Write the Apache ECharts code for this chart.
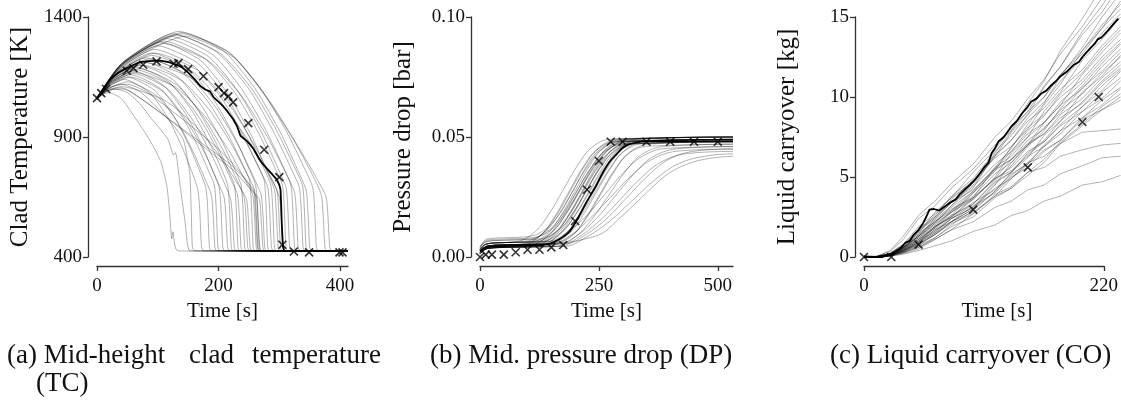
<!DOCTYPE html>
<html><head><meta charset="utf-8">
<script src="https://cdn.jsdelivr.net/npm/echarts@6/dist/echarts.min.js"></script>
<style>html,body{margin:0;padding:0;background:#fff}#c{width:1121px;height:403px}</style>
</head><body><div id="c"></div>
<script>
// ---------- (a) clad temperature: runs as flat [t,T,...] lists ----------
const tcRuns = [
[0,1060, 8,1078, 20,1085, 40,1060, 60,990, 80,915, 95,850, 106,790, 115,694, 120,570, 123,475, 125,505, 127,468, 130,432, 136,425, 413,425],
[0,1055, 12,1085, 30,1100, 50,1085, 70,1040, 90,975, 105,930, 117,889, 122,850, 126,825, 129,835, 137,694, 142,600, 145,543, 148,470, 151,430, 156,425, 413,425],
[0,1065, 15,1100, 40,1120, 70,1090, 100,1020, 125,950, 142,889, 150,790, 153,740, 155,600, 157,440, 161,426, 413,425],
[0,1060, 15,1104, 45,1140, 87,1084, 118,974, 142,846, 158,742, 166,680, 169,600, 172,440, 175,426, 413,425],
[0,1058, 17,1110, 50,1150, 95,1094, 127,984, 153,856, 170,752, 179,690, 182,610, 185,440, 188,426, 413,425],
[0,1062, 17,1099, 50,1130, 98,1072, 133,961, 160,829, 178,723, 188,660, 191,580, 194,440, 197,426, 413,425],
[0,1060, 18,1116, 55,1160, 103,1104, 138,994, 165,866, 183,762, 193,700, 196,610, 199,440, 202,426, 413,425],
[0,1058, 20,1124, 60,1175, 109,1116, 145,1000, 173,865, 191,755, 201,690, 204,600, 207,440, 210,426, 413,425],
[0,1064, 18,1110, 55,1150, 109,1089, 147,970, 178,830, 198,717, 209,650, 212,570, 215,440, 218,426, 413,425],
[0,1060, 22,1132, 65,1190, 118,1130, 155,1014, 185,876, 205,766, 215,700, 218,610, 221,440, 224,426, 413,425],
[0,1056, 20,1118, 60,1165, 116,1101, 156,976, 188,829, 209,711, 220,640, 223,560, 226,440, 229,426, 413,425],
[0,1062, 23,1138, 70,1200, 125,1139, 164,1020, 195,880, 215,767, 226,700, 229,610, 232,440, 235,426, 413,425],
[0,1060, 22,1127, 65,1180, 123,1116, 165,993, 198,847, 219,730, 231,660, 234,580, 237,440, 240,426, 413,425],
[0,1058, 25,1146, 75,1215, 132,1152, 172,1030, 205,885, 226,770, 237,700, 240,610, 243,440, 246,426, 413,425],
[0,1062, 23,1130, 70,1185, 130,1119, 173,992, 208,843, 230,722, 242,650, 245,570, 248,440, 251,426, 413,425],
[0,1060, 27,1154, 80,1230, 140,1168, 183,1046, 217,904, 239,789, 251,720, 254,620, 257,440, 260,426, 413,425],
[0,1056, 25,1138, 75,1200, 139,1136, 185,1013, 222,867, 246,750, 259,680, 262,590, 265,440, 268,426, 413,425],
[0,1062, 30,1166, 90,1250, 150,1183, 193,1052, 227,898, 249,774, 261,700, 264,610, 267,440, 270,426, 413,425],
[0,1060, 28,1152, 85,1225, 150,1156, 196,1022, 233,863, 257,736, 270,660, 273,580, 276,440, 279,426, 413,425],
[0,1060, 32,1174, 95,1265, 158,1198, 203,1069, 239,916, 262,794, 275,720, 278,620, 281,440, 284,426, 413,425],
[0,1058, 30,1160, 90,1240, 157,1173, 205,1042, 243,888, 268,764, 281,690, 284,600, 287,440, 290,426, 413,425],
[0,1062, 33,1182, 100,1280, 165,1209, 212,1071, 249,909, 273,778, 286,700, 289,610, 292,440, 295,426, 413,425],
[0,1060, 35,1191, 105,1295, 170,1220, 217,1074, 255,901, 279,763, 292,680, 295,590, 298,440, 301,426, 413,425],
[0,1064, 32,1166, 95,1250, 167,1176, 218,1034, 259,866, 286,731, 300,650, 303,570, 306,440, 309,426, 413,425],
[0,1060, 37,1193, 110,1300, 178,1226, 227,1084, 266,916, 291,781, 305,700, 308,610, 311,440, 314,426, 413,425],
[0,1058, 38,1199, 115,1310, 184,1234, 233,1087, 272,913, 297,774, 311,690, 314,600, 317,440, 320,426, 413,425],
[0,1062, 40,1205, 120,1320, 190,1244, 239,1097, 279,923, 305,784, 319,700, 322,610, 325,440, 328,426, 413,425],
[0,1060, 37,1188, 110,1290, 185,1214, 239,1067, 282,893, 310,754, 325,670, 328,590, 331,440, 334,426, 413,425],
[0,1056, 42,1210, 125,1330, 198,1252, 250,1100, 291,920, 318,776, 333,690, 336,600, 339,440, 342,426, 413,425],
[0,1062, 43,1207, 130,1325, 203,1248, 255,1100, 296,925, 323,784, 338,700, 341,610, 344,440, 347,426, 413,425],
[0,1060, 45,1216, 135,1340, 208,1259, 260,1102, 302,918, 329,769, 344,680, 347,590, 350,440, 353,426, 413,425],
[0,1058, 47,1215, 140,1335, 215,1256, 269,1103, 312,922, 340,777, 355,690, 358,600, 361,440, 364,426, 413,425],
[0,1062, 47,1212, 140,1330, 220,1248, 277,1070, 323,890, 353,750, 369,660, 372,580, 375,440, 378,426, 413,425],
[0,1060, 48,1205, 145,1320, 226,1230, 284,1050, 331,860, 361,730, 377,650, 380,570, 383,440, 386,426, 413,425],
[0,1060, 20,1121, 60,1170, 129,1108, 178,986, 217,844, 242,729, 256,660, 259,580, 262,440, 265,426, 413,425],
[0,1058, 27,1143, 80,1210, 156,1145, 210,1019, 253,871, 281,752, 296,680, 299,590, 302,440, 305,426, 413,425],
[0,1060, 13,1088, 40,1110, 112,1052, 164,941, 205,809, 232,703, 246,640, 249,560, 252,440, 255,426, 413,425],
[0,1060, 20,1100, 40,1105, 60,1080, 100,1010, 140,935, 180,860, 220,785, 245,720, 262,650, 265,560, 268,440, 271,426, 413,425],
[0,1058, 20,1095, 45,1100, 70,1065, 110,990, 150,910, 190,830, 225,760, 250,690, 267,640, 270,560, 273,440, 276,426, 413,425],
[0,1062, 25,1110, 50,1120, 80,1090, 120,1015, 160,935, 200,850, 230,770, 252,700, 258,680, 261,580, 264,440, 267,426, 413,425]
];
const tcNominal = [0,1062, 10,1100, 21,1139, 35,1168, 49,1187, 60,1200, 71,1212, 85,1216, 104,1218, 118,1212, 131,1201, 140,1190, 148,1173, 160,1142, 170,1112, 178,1098, 186,1090, 192,1065, 202,1042, 207,1030, 213,1012, 218,995, 224,975, 230,948, 236,905, 241,895, 246,885, 252,868, 257,852, 262,830, 266,812, 272,790, 279,770, 288,745, 296,722, 300,700, 302,680, 303,620, 304,542, 305,490, 306,444, 308,426, 413,425];
const tcExpTime  = [0, 7, 15, 49, 60, 76, 98, 126, 134, 150, 175, 200, 209, 216, 224, 249, 275, 300, 305, 324, 349, 399, 404];
const tcExpValue = [1062, 1083, 1100, 1176, 1187, 1201, 1215, 1205, 1208, 1183, 1153, 1108, 1083, 1069, 1044, 958, 847, 733, 451, 423, 419, 419, 419];
const tcTicksX = [0, 200, 400];
const tcTicksY = [400, 900, 1400];

// ---------- (b) pressure drop ----------
const dpRuns = [
[0,0.0015, 15,0.0035, 50,0.004, 85,0.0045, 125,0.0085, 155,0.0162, 185,0.0265, 215,0.0369, 245,0.0445, 285,0.0481, 532,0.049],
[0,0.002, 15,0.0045, 50,0.005, 90,0.0055, 130,0.0095, 160,0.0172, 190,0.0275, 220,0.0379, 250,0.0455, 290,0.0491, 532,0.050],
[0,0.003, 15,0.0055, 50,0.006, 95,0.0065, 135,0.0103, 165,0.0176, 195,0.0275, 225,0.0374, 255,0.0447, 295,0.0481, 532,0.049],
[0,0.002, 15,0.0045, 50,0.005, 100,0.0055, 140,0.0095, 170,0.0172, 200,0.0275, 230,0.0379, 260,0.0455, 300,0.0491, 532,0.050],
[0,0.0012, 15,0.0035, 50,0.004, 100,0.0045, 140,0.0084, 170,0.0159, 200,0.026, 230,0.0361, 260,0.0436, 300,0.0471, 532,0.048],
[0,0.004, 15,0.0065, 50,0.007, 105,0.0075, 145,0.0112, 175,0.0183, 205,0.028, 235,0.0377, 265,0.0448, 305,0.0482, 532,0.049],
[0,0.0025, 15,0.0045, 50,0.005, 108,0.0055, 148,0.0095, 178,0.0172, 208,0.0275, 238,0.0379, 268,0.0455, 308,0.0491, 532,0.050],
[0,0.003, 15,0.0055, 50,0.006, 110,0.0065, 150,0.0103, 180,0.0176, 210,0.0275, 240,0.0374, 270,0.0447, 310,0.0481, 532,0.049],
[0,0.0015, 15,0.0035, 50,0.004, 112,0.0045, 152,0.0084, 182,0.0159, 212,0.026, 242,0.0361, 272,0.0436, 312,0.0471, 532,0.048],
[0,0.002, 15,0.0045, 50,0.005, 115,0.0055, 155,0.0095, 185,0.0172, 215,0.0275, 245,0.0379, 275,0.0455, 315,0.0491, 532,0.050],
[0,0.0035, 15,0.0055, 50,0.006, 118,0.0065, 158,0.0103, 188,0.0176, 218,0.0275, 248,0.0374, 278,0.0447, 318,0.0481, 532,0.049],
[0,0.002, 15,0.0045, 50,0.005, 120,0.0055, 160,0.0093, 190,0.0166, 220,0.0265, 250,0.0364, 280,0.0437, 320,0.0471, 532,0.048],
[0,0.0012, 15,0.0035, 50,0.004, 122,0.0045, 162,0.0086, 192,0.0164, 222,0.027, 252,0.0376, 282,0.0454, 322,0.0491, 532,0.050],
[0,0.0045, 15,0.0065, 50,0.007, 125,0.0075, 165,0.0112, 195,0.0183, 225,0.028, 255,0.0377, 285,0.0448, 325,0.0482, 532,0.049],
[0,0.002, 15,0.0045, 50,0.005, 128,0.0055, 168,0.0094, 198,0.0169, 228,0.027, 258,0.0371, 288,0.0446, 328,0.0481, 532,0.049],
[0,0.003, 15,0.0055, 50,0.006, 130,0.0065, 170,0.0102, 200,0.0173, 230,0.027, 260,0.0367, 290,0.0438, 330,0.0472, 532,0.048],
[0,0.0015, 15,0.0035, 50,0.004, 135,0.0045, 175,0.0086, 205,0.0164, 235,0.027, 265,0.0376, 295,0.0454, 335,0.0491, 532,0.050],
[0,0.0022, 15,0.0045, 50,0.005, 138,0.0055, 178,0.0094, 208,0.0169, 238,0.027, 268,0.0371, 298,0.0446, 338,0.0481, 532,0.049],
[0,0.003, 15,0.0055, 50,0.006, 142,0.0065, 182,0.0102, 212,0.0173, 242,0.027, 272,0.0367, 302,0.0438, 342,0.0472, 532,0.048],
[0,0.002, 15,0.0045, 50,0.005, 145,0.0055, 185,0.0094, 215,0.0169, 245,0.027, 275,0.0371, 305,0.0446, 345,0.0481, 532,0.049],
[0,0.0015, 15,0.0035, 50,0.004, 140,0.0045, 190,0.0083, 220,0.0156, 250,0.0255, 280,0.0354, 310,0.0427, 350,0.0461, 532,0.047],
[0,0.002, 15,0.0045, 50,0.005, 150,0.0055, 195,0.0093, 225,0.0166, 255,0.0265, 285,0.0364, 315,0.0437, 360,0.0471, 532,0.048],
[0,0.003, 15,0.0055, 50,0.006, 150,0.0065, 182,0.010, 222,0.0168, 262,0.026, 302,0.0352, 342,0.042, 390,0.0452, 532,0.046],
[0,0.0015, 15,0.0035, 50,0.004, 160,0.0045, 200,0.0083, 235,0.0156, 270,0.0255, 305,0.0354, 340,0.0427, 390,0.0461, 532,0.047],
[0,0.002, 15,0.0045, 50,0.005, 150,0.0055, 190,0.009, 230,0.0158, 275,0.025, 320,0.0342, 365,0.041, 420,0.0442, 532,0.045],
[0,0.002, 15,0.0045, 50,0.005, 165,0.0055, 205,0.0091, 245,0.0161, 285,0.0255, 325,0.0349, 365,0.0419, 420,0.0452, 532,0.046],
[0,0.0015, 15,0.0035, 50,0.004, 170,0.0045, 205,0.008, 250,0.0148, 295,0.024, 340,0.0332, 385,0.040, 440,0.0432, 532,0.044],
[0,0.002, 15,0.0045, 50,0.005, 180,0.0055, 220,0.009, 265,0.0158, 310,0.025, 355,0.0342, 400,0.041, 455,0.0442, 532,0.045],
[0,0.0015, 15,0.0035, 50,0.004, 180,0.0045, 220,0.0079, 270,0.0145, 320,0.0235, 370,0.0325, 420,0.0391, 480,0.0422, 532,0.043],
[0,0.002, 15,0.0045, 50,0.005, 180,0.006, 220,0.0075, 258,0.010, 290,0.0155, 328,0.0225, 365,0.0295, 398,0.035, 440,0.039, 480,0.041, 532,0.042],
[0,0.003, 15,0.0055, 50,0.006, 80,0.0065, 115,0.0104, 145,0.0179, 175,0.028, 205,0.0381, 235,0.0456, 275,0.0491, 532,0.050],
[0,0.004, 15,0.0075, 50,0.008, 100,0.0085, 130,0.0105, 160,0.016, 190,0.0255, 220,0.0365, 250,0.0445, 290,0.0485, 532,0.050],
[0,0.0035, 15,0.007, 50,0.0075, 110,0.008, 150,0.0115, 180,0.0185, 210,0.028, 240,0.0378, 270,0.0448, 310,0.0483, 532,0.049]
];
const dpNominal = [0,0.0023, 8,0.0035, 20,0.0042, 50,0.0045, 100,0.0048, 130,0.005, 150,0.0058, 165,0.0072, 178,0.0088, 188,0.0105, 202,0.0148, 223,0.0225, 245,0.030, 258,0.035, 272,0.0395, 287,0.0428, 300,0.0455, 314,0.047, 330,0.0478, 350,0.0482, 400,0.0483, 532,0.0483];
const dpExpTime  = [0, 12, 25, 50, 75, 100, 125, 150, 175, 200, 225, 250, 275, 300, 350, 400, 450, 500];
const dpExpValue = [0, 0.001, 0.001, 0.001, 0.002, 0.003, 0.003, 0.004, 0.005, 0.015, 0.028, 0.040, 0.048, 0.048, 0.048, 0.048, 0.048, 0.048];
const dpTicksX = [0, 250, 500];
const dpTicksY = [0, 0.05, 0.10];

// ---------- (c) liquid carryover: shared time grid ----------
const coTime = [0, 12, 24, 36, 50, 65, 80, 100, 120, 135, 150, 165, 180, 200, 218, 235];
const coRuns = [
[0,0,0.15,0.55,1.3,2.1,3.2,4.3,6.5,7.9,9.6,11.0,12.9,14.9,16.9,18.5],
[0,0.02,0.2,0.75,1.5,2.8,3.7,5.3,6.7,8.1,9.1,10.7,11.9,13.9,15.3,17.0],
[0,0,0.1,0.5,1.1,1.8,2.8,3.7,5.6,6.8,8.3,9.6,11.3,13.1,15.0,16.5],
[0,0.05,0.35,1.1,2.4,3.2,4.3,5.5,7.0,7.9,9.1,10.0,11.4,12.7,14.3,15.5],
[0,0.02,0.18,0.6,1.3,2.4,3.4,4.5,6.3,7.3,8.7,9.7,11.0,12.4,14.0,15.2],
[0,0,0.1,0.4,0.9,1.7,2.5,3.6,5.0,6.5,7.5,9.1,10.3,12.3,13.6,15.0],
[0,0.03,0.2,0.7,1.6,2.5,3.6,4.8,6.4,7.3,8.5,9.3,10.5,11.7,13.2,14.4],
[0,0,0.13,0.5,1.1,1.9,2.9,4.1,5.5,6.6,7.9,8.8,10.2,11.5,13.0,14.2],
[0,0,0.08,0.3,0.7,1.4,2.2,3.0,4.5,5.9,7.0,8.4,9.5,11.4,12.8,14.0],
[0,0.04,0.25,0.8,1.9,2.7,3.7,4.7,6.2,6.9,8.1,8.9,10.0,11.1,12.5,13.6],
[0,0.02,0.15,0.6,1.3,2.2,3.1,4.1,5.6,6.3,7.5,8.4,9.7,10.9,12.3,13.4],
[0,0,0.1,0.35,0.8,1.5,2.4,3.3,4.8,5.7,6.9,7.9,9.3,10.7,12.1,13.3],
[0,0.03,0.2,0.7,1.6,2.4,3.4,4.4,5.8,6.6,7.7,8.4,9.5,10.5,11.9,13.0],
[0,0,0.12,0.45,1.0,1.9,2.5,3.7,4.9,6.1,7.0,8.1,9.0,10.6,11.6,12.8],
[0,0.01,0.15,0.55,1.2,2.1,2.8,4.0,5.4,6.1,7.3,8.0,9.2,10.2,11.5,12.5],
[0,0,0.07,0.27,0.6,1.2,2.0,2.9,4.1,5.3,6.2,7.6,8.5,10.3,11.3,12.6],
[0,0.02,0.17,0.6,1.4,2.2,2.9,3.8,5.2,5.9,7.0,7.7,8.9,9.9,11.2,12.2],
[0,0,0.1,0.4,0.9,1.6,2.4,3.1,4.6,5.3,6.5,7.3,8.5,9.7,11.0,12.0],
[0,0.04,0.22,0.75,1.7,2.5,3.4,4.2,5.5,6.1,7.1,7.7,8.7,9.6,10.9,11.8],
[0,0.01,0.13,0.5,1.1,1.8,2.6,3.3,4.7,5.3,6.4,7.2,8.3,9.4,10.7,11.7],
[0,0,0.05,0.22,0.5,1.1,1.7,2.7,3.8,4.9,5.8,7.0,7.9,9.4,10.4,11.6],
[0,0.02,0.15,0.6,1.3,2.0,2.8,3.6,4.9,5.6,6.6,7.2,8.2,9.1,10.3,11.2],
[0,0,0.1,0.35,0.8,1.4,2.2,3.0,4.1,5.1,5.9,6.9,7.7,9.1,9.9,11.0],
[0,0.03,0.18,0.65,1.5,2.2,3.0,3.7,4.9,5.4,6.3,6.9,7.9,8.7,9.8,10.6],
[0,0,0.12,0.45,1.0,1.7,2.2,3.2,4.0,5.0,5.6,6.6,7.3,8.7,9.5,10.5],
[0,0,0.08,0.3,0.7,1.2,1.9,2.5,3.7,4.3,5.3,6.1,7.2,8.3,9.4,10.2],
[0,0.02,0.15,0.55,1.2,1.9,2.5,3.4,4.2,5.2,5.8,6.7,7.3,8.6,9.2,10.0],
[0,0,0.1,0.4,0.9,1.5,2.2,2.8,3.8,4.3,5.1,5.9,7.1,8.2,9.2,9.8],
[0,0.02,0.16,0.6,1.4,2.3,3.2,4.7,6.3,7.8,8.9,10.6,11.9,14.1,15.7,17.5],
[0,0.05,0.4,1.3,2.6,3.5,4.6,5.8,7.5,8.5,9.9,11.1,12.7,14.4,16.2,18.0],
[0,0,0.1,0.4,0.9,1.9,2.6,4.0,5.4,6.9,8.0,9.5,10.8,12.9,14.3,16.0],
[0,0.03,0.2,0.75,1.7,2.6,3.8,4.9,6.6,7.6,8.9,10.0,11.4,12.9,14.5,15.8],
[0,0,0.05,0.18,0.4,0.7,1.0,1.6,2.0,2.6,2.9,3.5,3.8,4.5,4.7,5.1],
[0,0,0.07,0.27,0.6,1.1,1.7,2.2,3.1,3.5,4.2,4.5,5.2,5.7,6.2,6.3],
[0,0,0.1,0.35,0.8,1.4,2.1,2.7,3.9,4.4,5.3,5.6,6.3,6.7,7.0,7.1],
[0,0,0.12,0.45,1.0,1.6,2.4,3.1,4.3,4.9,5.9,6.3,7.1,7.8,7.9,8.0]
];
const coNominal = [0,0.04, 10,0, 17,0, 25,0.2, 33,0.5, 38,0.9, 42,1.0, 45,1.35, 50,1.7, 54,2.1, 57,2.5, 60,2.96, 64,3.0, 69,2.9, 75,3.2, 80,3.45, 84,3.6, 88,3.95, 92,4.2, 97,4.5, 102,4.85, 106,5.2, 110,5.6, 114,5.9, 117,6.5, 120,6.8, 123,7.2, 128,7.5, 135,8.16, 140,8.5, 145,9.0, 149,9.3, 153,9.7, 158,9.9, 162,10.2, 167,10.4, 171,10.7, 176,11.0, 180,11.3, 186,11.6, 192,12.0, 197,12.2, 200,12.5, 204,12.8, 208,13.1, 211,13.3, 214,13.6, 217,13.7, 220,13.9, 224,14.2, 229,14.6, 233,14.9];
const coExpTime  = [0, 25, 50, 100, 150, 200, 215];
const coExpValue = [0, 0, 0.77, 2.96, 5.6, 8.44, 10.0];
const coTicksX = [0, 220];
const coTicksY = [0, 5, 10, 15];

// ---------- build ----------
function pairs(flat){ const o=[]; for(let i=0;i<flat.length;i+=2) o.push([flat[i],flat[i+1]]); return o; }
function zip(xs, ys){ return xs.map((x,i)=>[x, ys[i]]); }

const FONT = '"Liberation Serif", "Times New Roman", serif';
const AX = '#333';
const series = [];
function gray(gi, data, smooth){
  series.push({type:'line', xAxisIndex:gi, yAxisIndex:gi, data, showSymbol:false, symbol:'none',
    smooth: smooth || false, lineStyle:{color:'rgba(0,0,0,0.3)', width:1}, silent:true, clip: gi!==2, z:2});
}
function black(gi, data, smooth){
  series.push({type:'line', xAxisIndex:gi, yAxisIndex:gi, data, showSymbol:false, symbol:'none',
    smooth: smooth || false, lineStyle:{color:'#000', width:1.8}, silent:true, clip: gi!==2, z:5});
}
function marks(gi, data){
  series.push({type:'scatter', xAxisIndex:gi, yAxisIndex:gi, data, symbol:'path://M0,0L10,10M10,0L0,10',
    symbolSize:8, itemStyle:{color:'rgba(0,0,0,0)', borderColor:'#000', borderWidth:1.6}, silent:true, clip:false, z:10});
}
tcRuns.forEach(r=>gray(0, pairs(r), 0.2));
black(0, pairs(tcNominal));
marks(0, zip(tcExpTime, tcExpValue));
dpRuns.forEach(r=>gray(1, pairs(r), 0.4));
black(1, pairs(dpNominal), 0.3);
marks(1, zip(dpExpTime, dpExpValue));
coRuns.forEach(r=>gray(2, zip(coTime, r)));
black(2, pairs(coNominal));
marks(2, zip(coExpTime, coExpValue));

function xAx(gi, max, ticks, padLeft){
  return {type:'value', gridIndex:gi, min:0, max, offset:9,
    axisLine:{show:true, onZero:false, lineStyle:{color:AX, width:1.3}},
    axisTick:{show:true, length:5, customValues:ticks, lineStyle:{color:AX, width:1.3}},
    axisLabel:{customValues:ticks, margin:11, fontFamily:FONT, fontSize:19, color:'#111'},
    splitLine:{show:false},
    name:'Time [s]', nameLocation:'middle', nameGap:29,
    nameTextStyle:{fontFamily:FONT, fontSize:21, color:'#111', padding:[0,0,0,padLeft||0]}};
}
function yAx(gi, min, max, ticks, name, fmt){
  return {type:'value', gridIndex:gi, min, max, offset:9,
    axisLine:{show:true, onZero:false, lineStyle:{color:AX, width:1.3}},
    axisTick:{show:true, length:5, customValues:ticks, lineStyle:{color:AX, width:1.3}},
    axisLabel:{customValues:ticks, margin:6, fontFamily:FONT, fontSize:19, color:'#111', formatter:fmt},
    splitLine:{show:false},
    name, nameLocation:'middle', nameGap:55,
    nameTextStyle:{fontFamily:FONT, fontSize:25, color:'#111'}};
}
// panel (c): data grid runs past the trimmed axis (0..220) to the page edge
const coDataMax = 235.4;
const coDataAxis = {type:'value', gridIndex:2, min:0, max:coDataMax, show:false};
const coHiddenY = {type:'value', gridIndex:3, min:0, max:15, show:false};

const capFont = '27px "Liberation Serif", serif';
function cap(x, y, text){ return {type:'text', x, y, silent:true, style:{text, font:capFont, fill:'#111', align:'left', verticalAlign:'middle'}}; }

const option = {
  animation:false,
  backgroundColor:'#fff',
  grid:[
    {left:97, top:17, width:251, height:240, containLabel:false},
    {left:480, top:17, width:253, height:240, containLabel:false},
    {left:864, top:17, width:260, height:240, containLabel:false},
    {left:864, top:17, width:243, height:240, containLabel:false}
  ],
  xAxis:[ xAx(0, 413, tcTicksX), xAx(1, 532, dpTicksX), coDataAxis, xAx(3, 220, coTicksX, 26) ],
  yAxis:[
    yAx(0, 400, 1400, tcTicksY, 'Clad Temperature [K]', v=>String(v)),
    yAx(1, 0, 0.10, dpTicksY, 'Pressure drop [bar]', v=>v.toFixed(2)),
    yAx(2, 0, 15, coTicksY, 'Liquid carryover [kg]', v=>String(v)),
    coHiddenY
  ],
  series,
  graphic:[
    cap(7, 356, '(a) Mid-height'),
    cap(189, 356, 'clad'),
    cap(252, 356, 'temperature'),
    cap(36, 384, '(TC)'),
    cap(430, 356, '(b) Mid. pressure drop (DP)'),
    cap(830, 356, '(c) Liquid carryover (CO)')
  ]
};
const chart = echarts.init(document.getElementById('c'), null, {renderer:'canvas'});
chart.setOption(option);
</script></body></html>
